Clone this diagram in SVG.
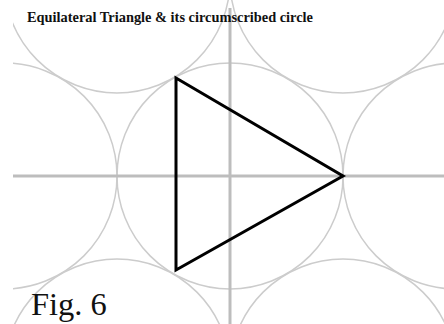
<svg xmlns="http://www.w3.org/2000/svg" width="444" height="324" viewBox="0 0 444 324">
<style>
.c{fill:none;stroke:#cccccc;stroke-width:1.5}
.ax{stroke:#bdbdbd;stroke-width:3}
.tri{fill:none;stroke:#000;stroke-width:3;stroke-linejoin:miter}
.t{font-family:"Liberation Serif",serif;fill:#111}
</style>
<defs>
<clipPath id="clip"><rect x="13" y="0" width="431" height="324"/></clipPath>
</defs>
<rect width="444" height="324" fill="#fff"/>
<g id="circles" clip-path="url(#clip)">
<circle class="c" cx="230" cy="176" r="113"/>
<circle class="c" cx="117" cy="-20" r="113"/>
<circle class="c" cx="343" cy="-20" r="113"/>
<circle class="c" cx="4" cy="176" r="113"/>
<circle class="c" cx="456" cy="176" r="113"/>
<circle class="c" cx="117" cy="372" r="113"/>
<circle class="c" cx="343" cy="372" r="113"/>
</g>
<g id="axes">
<line class="ax" x1="13" y1="176" x2="444" y2="176"/>
<line class="ax" x1="230" y1="8" x2="230" y2="324"/>
</g>
<g id="triangle">
<polygon class="tri" points="176,78 343,176 176,270"/>
</g>
<text class="t" x="27" y="22" font-size="14.2" font-weight="bold" textLength="286" lengthAdjust="spacingAndGlyphs">Equilateral Triangle &amp; its circumscribed circle</text>
<text class="t" x="31" y="315" font-size="32.5">Fig. 6</text>
</svg>
